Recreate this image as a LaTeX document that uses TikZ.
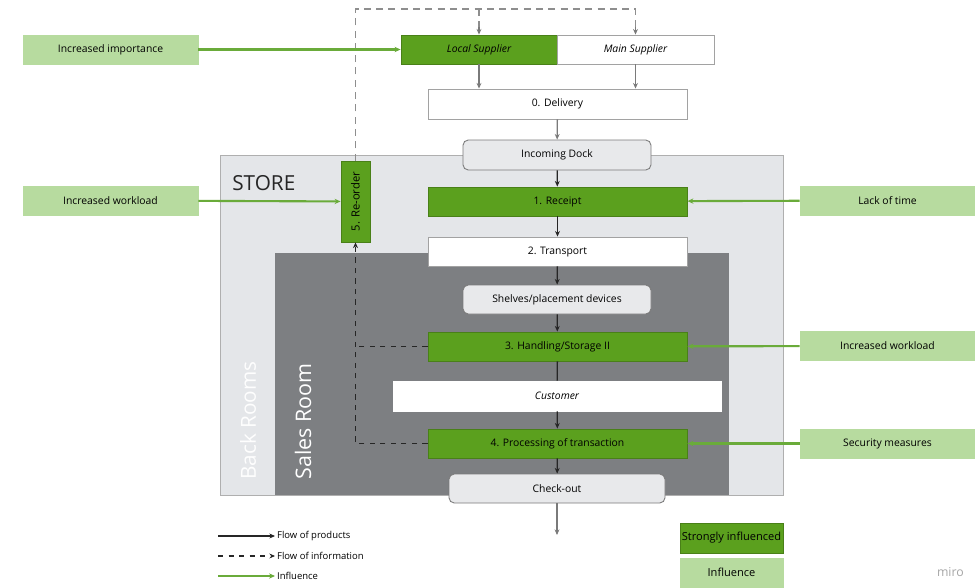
\documentclass[tikz,border=0pt]{standalone}
\usepackage{fontspec}
\setmainfont{Open Sans}
\usetikzlibrary{arrows.meta,positioning}
\definecolor{strongG}{HTML}{5BA01E}
\definecolor{lightG}{HTML}{B7DB9F}
\definecolor{inflG}{HTML}{6AAB3A}
\definecolor{storeBg}{HTML}{E4E6E9}
\definecolor{salesBg}{HTML}{7D7F82}
\definecolor{placeBg}{HTML}{E8E9EB}
\definecolor{lineGray}{HTML}{7A7A7A}
\tikzset{
  base/.style={
    rectangle,draw=lineGray!70,line width=0.5pt,align=center,
    inner sep=1pt,minimum height=5.8mm,font=\fontsize{5.9}{7}\selectfont
  },
  stepbox/.style={base,minimum width=51.8mm,fill=white},
  strong/.style={base,fill=strongG,draw=strongG!80!black},
  plainbox/.style={base,fill=white},
  place/.style={base,rounded corners=3pt,fill=placeBg,draw=lineGray},
  infl/.style={base,fill=lightG,draw=lightG,minimum width=35mm},
  flow/.style={-{Stealth[length=3.2pt,width=2.8pt]},line width=0.75pt,draw=black!85},
  grayflow/.style={-{Stealth[length=3.2pt,width=2.8pt]},line width=0.75pt,draw=lineGray},
  info/.style={flow,dashed},
  infoline/.style={line width=0.75pt,draw=black!85,dashed},
  grayinfo/.style={line width=0.8pt,draw=lineGray!85,dash pattern=on 4pt off 3pt},
  influence/.style={-{Stealth[length=3.4pt,width=3pt]},line width=1.2pt,draw=inflG}
}
\begin{document}
\begin{tikzpicture}
    \useasboundingbox (0,0) rectangle (19.5,-11.74);

    % store areas
    \node[draw=lineGray!60,fill=storeBg,minimum width=112.6mm,minimum height=68mm,
      anchor=north west,inner sep=0pt] (store) at (4.4,-3.1) {};
    \node[fill=salesBg,minimum width=90.8mm,minimum height=48.4mm,
      anchor=north west,inner sep=0pt] (sales) at (5.5,-5.06) {};
    \node[anchor=west,font=\fontsize{11.8}{13}\selectfont,text=black!85,inner sep=0pt]
      (storelbl) at (4.64,-3.66) {STORE};
    \node[anchor=west,rotate=90,inner sep=0pt,font=\fontsize{11.8}{14}\selectfont,
      text=white!96!storeBg] (backlbl) at (4.96,-9.6) {Back Rooms};
    \node[anchor=west,rotate=90,inner sep=0pt,font=\fontsize{12.2}{14}\selectfont,
      text=white] (saleslbl) at (6.06,-9.6) {Sales Room};

    % suppliers and process steps
    \node[strong,minimum width=31.2mm] (local) at (9.58,-0.99) {\itshape Local Supplier};
    \node[plainbox,minimum width=31.4mm] (main) at (12.71,-0.99) {\itshape Main Supplier};
    \node[stepbox,minimum height=6mm] (delivery) at (11.15,-2.08) {0. Delivery};
    \node[place,minimum width=37.6mm,minimum height=6mm] (dock) at (11.14,-3.10)
      {Incoming Dock};
    \node[strong,minimum width=51.8mm] (receipt) at (11.15,-4.03) {1. Receipt};
    \node[stepbox] (transport) at (11.15,-5.03) {2. Transport};
    \node[place,minimum width=37.6mm] (shelves) at (11.14,-5.99)
      {Shelves/placement devices};
    \node[strong,minimum width=51.8mm] (handling) at (11.15,-6.93)
      {3. Handling/Storage II};
    \node[plainbox,minimum width=65.6mm,minimum height=6mm,draw=white] (customer)
      at (11.14,-7.92) {\itshape Customer};
    \node[strong,minimum width=51.8mm] (processing) at (11.15,-8.87)
      {4. Processing of transaction};
    \node[place,minimum width=43.2mm] (checkout) at (11.14,-9.77) {Check-out};
    \node[strong,minimum width=5.8mm,minimum height=16.2mm,
      font=\fontsize{6.4}{7}\selectfont] (reorder) at (7.11,-4.03)
      {\rotatebox{90}{5. Re-order}};
    \coordinate (exit) at (11.14,-10.7);

    % influencing factors
    \node[infl] (importance) at (2.21,-0.99) {Increased importance};
    \node[infl] (workloadL) at (2.21,-4.01) {Increased workload};
    \node[infl] (lacktime) at (17.75,-4.01) {Lack of time};
    \node[infl] (workloadR) at (17.75,-6.92) {Increased workload};
    \node[infl] (security) at (17.75,-8.87) {Security measures};

    % flow of products
    \draw[grayflow] (local) -- (local |- delivery.north);
    \draw[grayflow] (main) -- (main |- delivery.north);
    \draw[grayflow] (delivery) -- (dock);
    \draw[flow] (dock) -- (receipt);
    \draw[flow] (receipt) -- (transport);
    \draw[flow] (transport) -- (shelves);
    \draw[flow] (shelves) -- (handling);
    \draw[line width=0.75pt,draw=black!85] (handling) -- (customer);
    \draw[flow] (customer) -- (processing);
    \draw[flow] (processing) -- (checkout);
    \draw[grayflow] (checkout) -- (exit);

    % flow of information
    \coordinate (loop) at (0,-0.18);
    \draw[info] (processing.west) -- (processing.west -| reorder) -- (reorder.south);
    \draw[infoline] (handling.west) -- (handling.west -| reorder);
    \draw[grayinfo] (reorder.north) -- (reorder.north |- loop) -| ([yshift=1.5mm]main.north);
    \draw[grayflow] ([yshift=1.6mm]main.north) -- (main.north);
    \draw[grayinfo] (local.north |- loop) -- ([yshift=1.5mm]local.north);
    \draw[grayflow] ([yshift=1.6mm]local.north) -- (local.north);

    % influence
    \draw[influence] (importance) -- (local);
    \draw[influence] (workloadL) -- (reorder);
    \draw[influence] (lacktime) -- (receipt);
    \draw[influence] (workloadR) -- (handling);
    \draw[influence] (security) -- (processing);

    % legend
    \coordinate (lgA) at (4.36,-10.72);
    \coordinate (lgB) at (4.36,-11.12);
    \coordinate (lgC) at (4.36,-11.52);
    \node[anchor=west,font=\fontsize{5.4}{6}\selectfont,inner sep=1pt] (lgtA)
      at (5.5,-10.72) {Flow of products};
    \node[anchor=west,font=\fontsize{5.4}{6}\selectfont,inner sep=1pt] (lgtB)
      at (5.5,-11.12) {Flow of information};
    \node[anchor=west,font=\fontsize{5.4}{6}\selectfont,inner sep=1pt] (lgtC)
      at (5.5,-11.52) {Influence};
    \draw[flow] (lgA) -- (lgtA.west);
    \draw[info] (lgB) -- (lgtB.west);
    \draw[influence] (lgC) -- (lgtC.west);
    \node[strong,minimum width=20.6mm,minimum height=6mm,font=\fontsize{6.3}{7}\selectfont]
      (strongkey) at (14.63,-10.76) {Strongly influenced};
    \node[infl,minimum width=20.6mm,minimum height=5.8mm,font=\fontsize{6.3}{7}\selectfont]
      (inflkey) at (14.63,-11.45) {Influence};
    \node[anchor=east,text=black!35,font=\fontsize{7}{8}\selectfont] (brand)
      at (19.4,-11.44) {miro};
\end{tikzpicture}
\end{document}
